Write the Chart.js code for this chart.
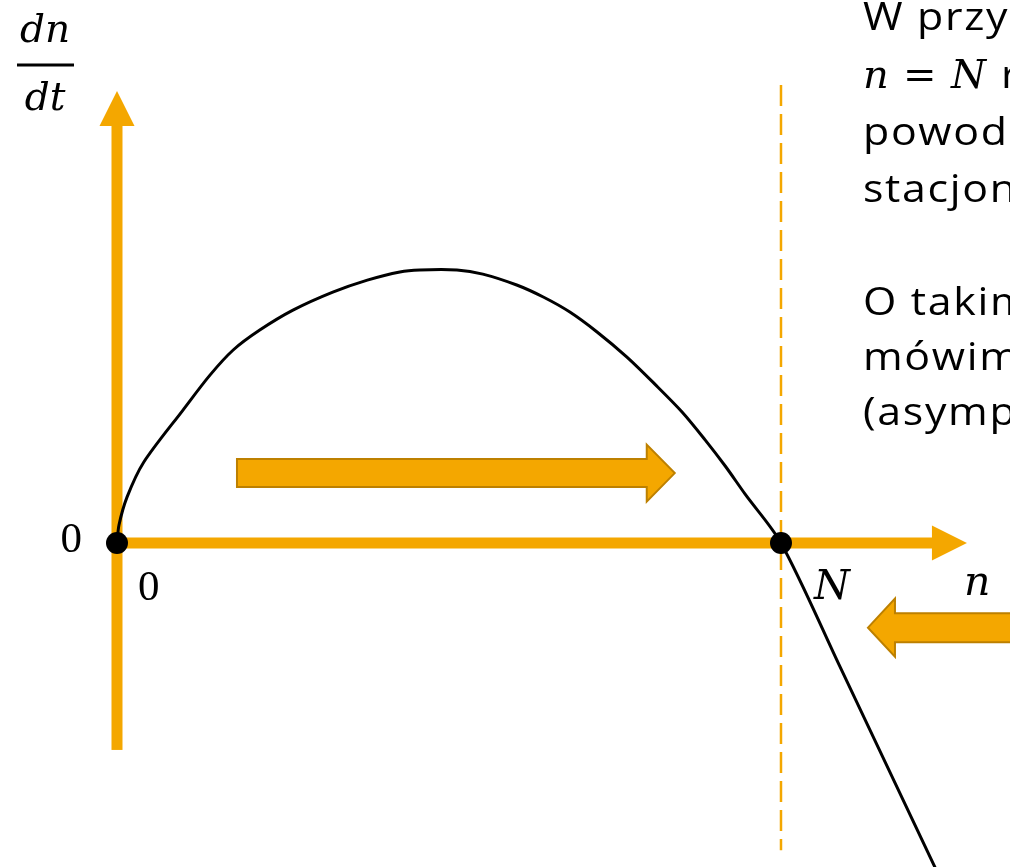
<!DOCTYPE html>
<html>
<head>
<meta charset="utf-8">
<script src="https://cdn.jsdelivr.net/npm/chart.js@4"></script>
<style>
html,body{margin:0;padding:0;background:#fff;overflow:hidden;}
canvas{display:block;}
</style>
</head>
<body>
<canvas id="c" width="1010" height="867"></canvas>
<script>
// ---- data ----
const N_VALUE = 100;
const nValues = [0, 0.3, 1.51, 4.0, 9.94, 14.0, 17.5, 21.5, 26.5, 32.5, 37.7, 42.6, 45.6, 51.2, 55.1, 60.2, 64.2, 68.2, 72.3, 76.8, 81.0, 85.1, 88.6, 91.6, 94.6, 100, 108.9, 124.4];
const rateValues = [0, 6.6, 16.8, 29.5, 48.7, 61.5, 70.7, 78.0, 85.3, 91.9, 96.3, 99.3, 100, 100, 98.5, 94.5, 90.1, 84.6, 77.3, 68.1, 58.2, 48.0, 37.7, 28.2, 17.9, 0, -45.4, -125];
const equilibriumN = [0, N_VALUE];
const equilibriumRate = [0, 0];
const xTickLabels = ['0', 'N'];
const yTickLabels = ['0'];
const xAxisTitle = 'n';
const yAxisTitleTop = 'dn';
const yAxisTitleBottom = 'dt';
const noteLines = ['W przypadku', '', 'powoduje', 'stacjonarny', '', 'O takim punkcie', 'mówimy, że jest', '(asymptotycznie)'];
const noteMath = ['n', '=', 'N', 'rozwiązanie'];

// ranges (data units)
const X_MIN = -17.62, X_MAX = 134.49;
const Y_MIN = -118.68, Y_MAX = 198.9;
const Y_AXIS_BOTTOM = -75.8, Y_AXIS_TIP = 165.6;
const X_AXIS_TIP = 128.0;
const DASH_TOP = 167.8, DASH_BOTTOM = -112.5;
const ARROW_R = {from: 18.07, to: 84.0, at: 25.6};
const ARROW_L = {from: 140, to: 113.1, at: -31.0};

const ORANGE = '#F4A700';
const ARROW_EDGE = '#BD8000';
const MATH_FONT = '"DejaVu Serif", serif';
const TEXT_FONT = '"Open Sans", Lato, sans-serif';

function blockArrow(ctx, x0, x1, yc, bodyH, headH, headL) {
  const dir = x1 > x0 ? 1 : -1;
  const hb = x1 - dir * headL;
  ctx.beginPath();
  ctx.moveTo(x0, yc - bodyH / 2);
  ctx.lineTo(hb, yc - bodyH / 2);
  ctx.lineTo(hb, yc - headH / 2);
  ctx.lineTo(x1, yc);
  ctx.lineTo(hb, yc + headH / 2);
  ctx.lineTo(hb, yc + bodyH / 2);
  ctx.lineTo(x0, yc + bodyH / 2);
  ctx.closePath();
  ctx.fillStyle = ORANGE;
  ctx.fill();
  ctx.lineWidth = 2;
  ctx.strokeStyle = ARROW_EDGE;
  ctx.stroke();
}

function wideText(ctx, text, x, yb) {
  ctx.save();
  ctx.translate(x, yb);
  ctx.scale(1.1, 1);
  if ('letterSpacing' in ctx) ctx.letterSpacing = '1.5px';
  ctx.fillText(text, 0, 0);
  ctx.restore();
}

const deco = {
  id: 'deco',
  beforeDatasetsDraw(chart) {
    const {ctx, scales: {x, y}} = chart;
    const X = v => x.getPixelForValue(v), Y = v => y.getPixelForValue(v);
    ctx.save();
    // dashed line at N
    ctx.strokeStyle = ORANGE;
    ctx.lineWidth = 2.5;
    ctx.setLineDash([21, 8]);
    ctx.beginPath();
    ctx.moveTo(X(N_VALUE), Y(DASH_TOP));
    ctx.lineTo(X(N_VALUE), Y(DASH_BOTTOM));
    ctx.stroke();
    ctx.setLineDash([]);
    // axes
    ctx.fillStyle = ORANGE;
    const ax = X(0), ay = Y(0);
    const tipY = Y(Y_AXIS_TIP), tipX = X(X_AXIS_TIP);
    ctx.fillRect(ax - 5.5, tipY + 34, 11, Y(Y_AXIS_BOTTOM) - tipY - 34);
    ctx.beginPath();
    ctx.moveTo(ax, tipY); ctx.lineTo(ax + 17.5, tipY + 35); ctx.lineTo(ax - 17.5, tipY + 35); ctx.closePath(); ctx.fill();
    ctx.fillRect(ax - 5.5, ay - 5.5, tipX - 35 - ax + 6, 11);
    ctx.beginPath();
    ctx.moveTo(tipX, ay); ctx.lineTo(tipX - 35, ay - 17.5); ctx.lineTo(tipX - 35, ay + 17.5); ctx.closePath(); ctx.fill();
    // block arrows
    blockArrow(ctx, X(ARROW_R.from), X(ARROW_R.to), Y(ARROW_R.at), 28, 57, 28);
    blockArrow(ctx, X(ARROW_L.from), X(ARROW_L.to), Y(ARROW_L.at), 29, 58, 27);
    ctx.restore();
  },
  afterDraw(chart) {
    const {ctx, scales: {x, y}} = chart;
    const X = v => x.getPixelForValue(v), Y = v => y.getPixelForValue(v);
    ctx.save();
    ctx.fillStyle = '#000';
    ctx.textBaseline = 'alphabetic';
    // tick labels
    ctx.font = '43px "Liberation Serif", serif';
    ctx.textAlign = 'right';
    ctx.fillText(yTickLabels[0], X(0) - 35, Y(0) + 9);
    ctx.textAlign = 'left';
    ctx.fillText(xTickLabels[0], X(0) + 21, Y(0) + 57);
    ctx.font = 'italic 41px ' + MATH_FONT;
    ctx.fillText(xTickLabels[1], X(N_VALUE) + 33, Y(0) + 56);
    ctx.fillText(xAxisTitle, X(X_AXIS_TIP) - 3, Y(0) + 52);
    // dn/dt
    ctx.textAlign = 'center';
    ctx.font = 'italic 39px ' + MATH_FONT;
    const cx = X(0) - 72;
    ctx.fillText(yAxisTitleTop, cx, 42);
    ctx.fillText(yAxisTitleBottom, cx, 110);
    ctx.fillRect(cx - 28, 63.5, 57, 3);
    // note text
    ctx.textAlign = 'left';
    const nx = 863;
    const baselines = [30, 88, 145, 202, 0, 315, 370, 425];
    ctx.font = '39px ' + TEXT_FONT;
    noteLines.forEach((t, i) => { if (t) wideText(ctx, t, nx, baselines[i]); });
    // math line
    ctx.font = 'italic 40px ' + MATH_FONT;
    ctx.fillText(noteMath[0], nx, 88);
    ctx.font = '40px ' + MATH_FONT;
    ctx.fillText(noteMath[1], 903, 88);
    ctx.font = 'italic 40px ' + MATH_FONT;
    ctx.fillText(noteMath[2], 951, 88);
    ctx.font = '39px ' + TEXT_FONT;
    wideText(ctx, noteMath[3], 1001, 88);
    ctx.restore();
  }
};

function build() {
  new Chart(document.getElementById('c'), {
    type: 'scatter',
    data: {
      datasets: [
        {
          data: nValues.map((v, i) => ({x: v, y: rateValues[i]})),
          showLine: true,
          borderColor: '#000',
          borderWidth: 3,
          pointRadius: 0,
          tension: 0.3,
          fill: false
        },
        {
          data: equilibriumN.map((v, i) => ({x: v, y: equilibriumRate[i]})),
          showLine: false,
          pointRadius: 11,
          pointHoverRadius: 11,
          backgroundColor: '#000',
          borderColor: '#000',
          borderWidth: 0
        }
      ]
    },
    options: {
      responsive: false,
      animation: false,
      devicePixelRatio: 1,
      layout: {padding: 0, autoPadding: false},
      plugins: {legend: {display: false}, tooltip: {enabled: false}},
      scales: {
        x: {type: 'linear', min: X_MIN, max: X_MAX, display: false},
        y: {type: 'linear', min: Y_MIN, max: Y_MAX, display: false}
      }
    },
    plugins: [deco]
  });
}
Promise.all([
  document.fonts.load('39px "Open Sans"'),
  document.fonts.load('italic 40px "DejaVu Serif"'),
  document.fonts.load('40px "DejaVu Serif"'),
  document.fonts.load('43px "Liberation Serif"')
]).then(build, build);
</script>
</body>
</html>
